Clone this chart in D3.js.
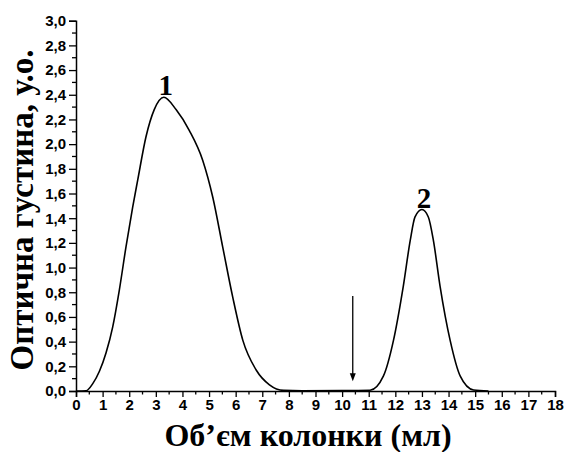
<!DOCTYPE html>
<html>
<head>
<meta charset="utf-8">
<script src="https://cdn.jsdelivr.net/npm/d3@7"></script>
<style>
  body { margin: 0; background: #fff; }
  svg { display: block; }
</style>
</head>
<body>
<svg id="chart" width="565" height="452"></svg>
<script>
// ---- data ----
const volume = [0, 0.38, 0.63, 0.88, 1.13, 1.38, 1.63, 1.88, 2.13, 2.32, 2.63, 2.94, 3.3, 3.76, 4.26, 4.76, 5.14, 5.51, 5.89, 6.27, 6.77, 7.27, 7.8, 8.5, 10, 11.05, 11.55, 11.93, 12.3, 12.56, 12.74, 13.0, 13.24, 13.43, 13.68, 14.06, 14.44, 14.94, 15.5];
const density = [0, 0.002, 0.06, 0.16, 0.31, 0.52, 0.82, 1.17, 1.49, 1.71, 2.06, 2.28, 2.38, 2.28, 2.11, 1.87, 1.57, 1.17, 0.76, 0.41, 0.17, 0.05, 0.005, 0.002, 0.003, 0.006, 0.12, 0.41, 0.85, 1.22, 1.41, 1.47, 1.41, 1.22, 0.85, 0.41, 0.12, 0.008, 0];
const xTicks = d3.range(0, 19, 1);
const yTicks = d3.range(0, 3.01, 0.2);
const peakLabels = ["1", "2"];
const peakX = [3.3, 13.0];
const peakY = [2.38, 1.47];
const arrowX = 10.4;
const arrowTop = 0.77;
const arrowTip = 0.08;
const xTitle = "Об’єм колонки (мл)";
const yTitle = "Оптична густина, у.о.";

// ---- layout ----
const svg = d3.select("#chart");
const x = d3.scaleLinear().domain([0, 18]).range([76, 555]);
const y = d3.scaleLinear().domain([0, 3]).range([391, 20.7]);

const xMinor = d3.range(0.5, 18, 1);
const yMinor = d3.range(0.1, 3, 0.2);

// x axis
const gx = svg.append("g").attr("transform", `translate(0,${y(0)})`)
  .call(d3.axisBottom(x).tickValues(xTicks).tickFormat(d3.format("d")).tickSize(6).tickPadding(2));
gx.append("g").selectAll("line").data(xMinor).join("line")
  .attr("x1", d => x(d)).attr("x2", d => x(d)).attr("y1", 0).attr("y2", 3.5)
  .attr("stroke", "#000").attr("stroke-width", 1.3);

// y axis
const fmt = d => d3.format(".1f")(d).replace(".", ",");
const gy = svg.append("g").attr("transform", `translate(${x(0)},0)`)
  .call(d3.axisLeft(y).tickValues(yTicks).tickFormat(fmt).tickSize(7).tickPadding(3));
gy.append("g").selectAll("line").data(yMinor).join("line")
  .attr("x1", 0).attr("x2", -4).attr("y1", d => y(d)).attr("y2", d => y(d))
  .attr("stroke", "#000").attr("stroke-width", 1.3);

[gx, gy].forEach(g => {
  g.attr("font-family", "'Liberation Sans', Arial, sans-serif")
   .attr("font-size", 15)
   .attr("font-weight", "bold");
  g.select(".domain").attr("stroke", "#000").attr("stroke-width", 1.5);
  g.selectAll(".tick line").attr("stroke", "#000").attr("stroke-width", 1.3);
  g.selectAll(".tick text").attr("fill", "#000");
});

// curve
const pts = volume.map((v, i) => [v, density[i]]);
svg.append("path").datum(pts)
  .attr("fill", "none").attr("stroke", "#000").attr("stroke-width", 1.6)
  .attr("d", d3.line().x(d => x(d[0])).y(d => y(d[1])).curve(d3.curveMonotoneX));

// peak labels
svg.selectAll(".peak").data(peakLabels).join("text")
  .attr("class", "peak")
  .attr("x", (d, i) => x(peakX[i]) + 2)
  .attr("y", (d, i) => y(peakY[i]) - 2)
  .attr("text-anchor", "middle")
  .attr("font-family", "'Liberation Serif', 'Times New Roman', serif")
  .attr("font-size", 29)
  .attr("font-weight", "bold")
  .text(d => d);

// arrow
svg.append("line")
  .attr("x1", x(arrowX)).attr("x2", x(arrowX))
  .attr("y1", y(arrowTop)).attr("y2", y(arrowTip) - 6)
  .attr("stroke", "#000").attr("stroke-width", 1.3);
svg.append("path")
  .attr("d", `M${x(arrowX) - 3},${y(arrowTip) - 8} L${x(arrowX) + 3},${y(arrowTip) - 8} L${x(arrowX)},${y(arrowTip)} Z`)
  .attr("fill", "#000");

// titles
svg.append("text")
  .attr("x", 308).attr("y", 446)
  .attr("text-anchor", "middle")
  .attr("font-family", "'Liberation Serif', 'Times New Roman', serif")
  .attr("font-size", 32)
  .attr("font-weight", "bold")
  .text(xTitle);

svg.append("text")
  .attr("transform", "translate(33,210) rotate(-90)")
  .attr("text-anchor", "middle")
  .attr("font-family", "'Liberation Serif', 'Times New Roman', serif")
  .attr("font-size", 33)
  .attr("font-weight", "bold")
  .text(yTitle);
</script>
</body>
</html>
